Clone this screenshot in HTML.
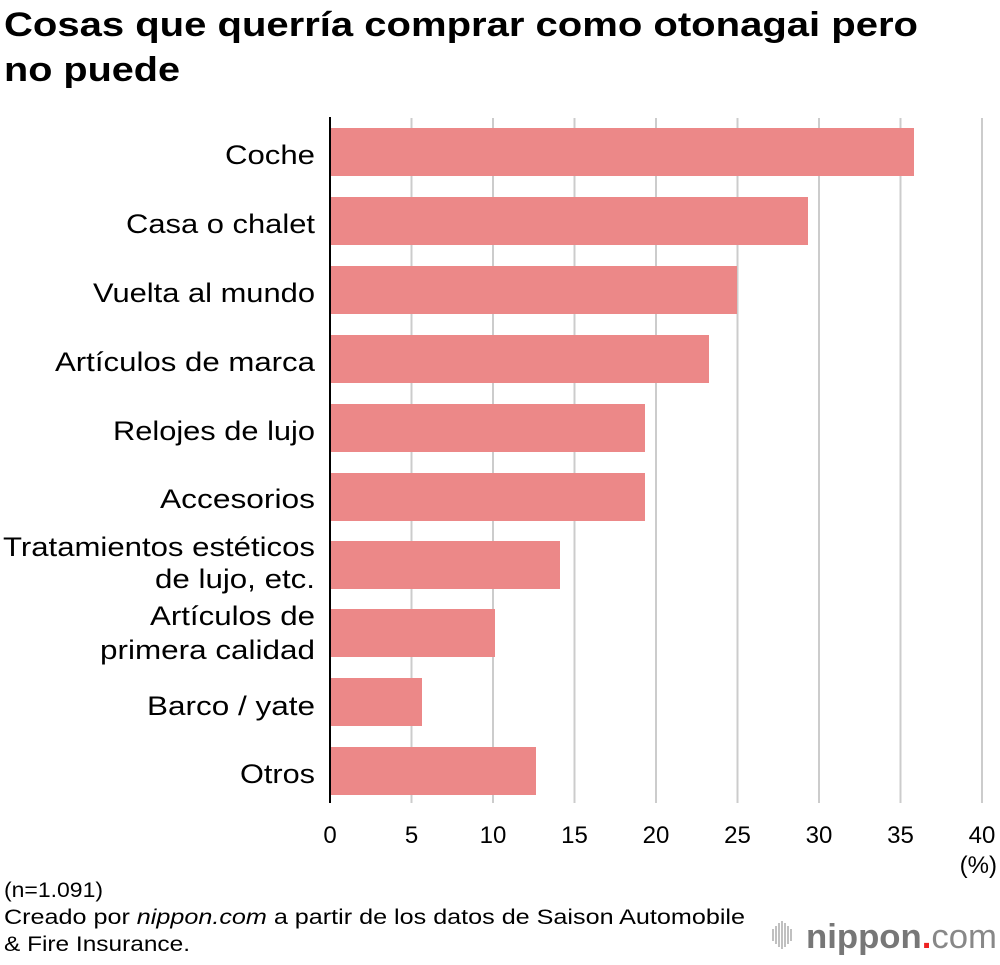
<!DOCTYPE html>
<html><head><meta charset="utf-8"><style>
body{margin:0;background:#fff;}
svg text{font-family:"Liberation Sans",sans-serif;fill:#000;}
</style></head><body>
<svg width="1000" height="960" xmlns="http://www.w3.org/2000/svg">
<text x="4" y="36" font-size="34" font-weight="bold" textLength="914" lengthAdjust="spacingAndGlyphs">Cosas que querría comprar como otonagai pero</text>
<text x="4" y="81" font-size="34" font-weight="bold" textLength="176" lengthAdjust="spacingAndGlyphs">no puede</text>
<g stroke="#ccc" stroke-width="2">
<line x1="411.5" y1="118" x2="411.5" y2="803"/>
<line x1="493" y1="118" x2="493" y2="803"/>
<line x1="574.5" y1="118" x2="574.5" y2="803"/>
<line x1="656" y1="118" x2="656" y2="803"/>
<line x1="737.5" y1="118" x2="737.5" y2="803"/>
<line x1="819" y1="118" x2="819" y2="803"/>
<line x1="900.5" y1="118" x2="900.5" y2="803"/>
<line x1="982" y1="118" x2="982" y2="803"/>
</g>
<g fill="#EC8888">
<rect x="331" y="128" width="583" height="48"/>
<rect x="331" y="197" width="477" height="48"/>
<rect x="331" y="266" width="406" height="48"/>
<rect x="331" y="335" width="378" height="48"/>
<rect x="331" y="404" width="314" height="48"/>
<rect x="331" y="473" width="314" height="48"/>
<rect x="331" y="541" width="229" height="48"/>
<rect x="331" y="609" width="164" height="48"/>
<rect x="331" y="678" width="91" height="48"/>
<rect x="331" y="747" width="205" height="48"/>
</g>
<line x1="330" y1="117" x2="330" y2="803" stroke="#000" stroke-width="2"/>
<g font-size="27">
<text x="225" y="164" textLength="90" lengthAdjust="spacingAndGlyphs">Coche</text>
<text x="126" y="233" textLength="189" lengthAdjust="spacingAndGlyphs">Casa o chalet</text>
<text x="93" y="302" textLength="222" lengthAdjust="spacingAndGlyphs">Vuelta al mundo</text>
<text x="55" y="371" textLength="260" lengthAdjust="spacingAndGlyphs">Artículos de marca</text>
<text x="113" y="440" textLength="202" lengthAdjust="spacingAndGlyphs">Relojes de lujo</text>
<text x="160" y="508" textLength="155" lengthAdjust="spacingAndGlyphs">Accesorios</text>
<text x="3" y="556" textLength="312" lengthAdjust="spacingAndGlyphs">Tratamientos estéticos</text>
<text x="155" y="588" textLength="160" lengthAdjust="spacingAndGlyphs">de lujo, etc.</text>
<text x="150" y="625" textLength="165" lengthAdjust="spacingAndGlyphs">Artículos de</text>
<text x="100" y="659" textLength="215" lengthAdjust="spacingAndGlyphs">primera calidad</text>
<text x="147" y="715" textLength="168" lengthAdjust="spacingAndGlyphs">Barco / yate</text>
<text x="240" y="783" textLength="75" lengthAdjust="spacingAndGlyphs">Otros</text>
</g>
<g font-size="24" text-anchor="middle">
<text x="330" y="843">0</text>
<text x="411.5" y="843">5</text>
<text x="493" y="843">10</text>
<text x="574.5" y="843">15</text>
<text x="656" y="843">20</text>
<text x="737.5" y="843">25</text>
<text x="819" y="843">30</text>
<text x="900.5" y="843">35</text>
<text x="982" y="843">40</text>
</g>
<text x="997" y="873" font-size="24" text-anchor="end">(%)</text>
<text x="4" y="897" font-size="21" textLength="99" lengthAdjust="spacingAndGlyphs">(n=1.091)</text>
<text x="4" y="924" font-size="21" textLength="741" lengthAdjust="spacingAndGlyphs">Creado por <tspan font-style="italic">nippon.com</tspan> a partir de los datos de Saison Automobile</text>
<text x="4" y="951" font-size="21" textLength="186" lengthAdjust="spacingAndGlyphs">&amp; Fire Insurance.</text>
<g stroke="#aaa" stroke-width="1.5">
<line x1="773" y1="929" x2="773" y2="941"/><line x1="776" y1="926" x2="776" y2="944"/>
<line x1="779" y1="923" x2="779" y2="947"/><line x1="782" y1="921" x2="782" y2="949"/>
<line x1="785" y1="923" x2="785" y2="947"/><line x1="788" y1="926" x2="788" y2="944"/>
<line x1="791" y1="929" x2="791" y2="941"/>
</g>
<text x="806" y="948" font-size="34" font-weight="bold" style="fill:#777" textLength="191" lengthAdjust="spacingAndGlyphs">nippon<tspan style="fill:#e22">.</tspan><tspan font-weight="normal" style="fill:#888">com</tspan></text>
</svg>
</body></html>
